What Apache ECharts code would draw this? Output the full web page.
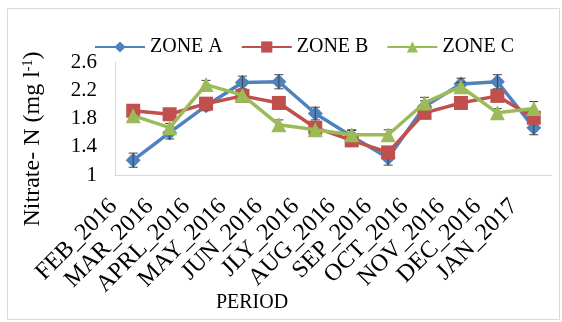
<!DOCTYPE html>
<html><head><meta charset="utf-8">
<script src="https://cdn.jsdelivr.net/npm/echarts@6/dist/echarts.min.js"></script>
<style>html,body{margin:0;padding:0;background:#fff}#c{width:562px;height:322px}</style>
</head><body><div id="c"></div>
<script>
const categories = ['FEB_2016','MAR_2016','APRL_2016','MAY_2016','JUN_2016','JLY_2016','AUG_2016','SEP_2016','OCT_2016','NOV_2016','DEC_2016','JAN_2017'];
const zoneA = [1.21, 1.60, 1.98, 2.31, 2.32, 1.87, 1.55, 1.24, 1.97, 2.29, 2.32, 1.67];
const zoneB = [1.91, 1.86, 2.01, 2.12, 2.02, 1.67, 1.49, 1.32, 1.88, 2.02, 2.12, 1.81];
const zoneC = [1.84, 1.67, 2.28, 2.13, 1.71, 1.64, 1.57, 1.57, 2.02, 2.25, 1.88, 1.94];
const errA = [0.10, 0.09, 0.07, 0.09, 0.10, 0.09, 0.08, 0.10, 0.08, 0.08, 0.10, 0.10];
const errB = [0.06, 0.06, 0.06, 0.06, 0.06, 0.06, 0.06, 0.06, 0.06, 0.06, 0.06, 0.06];
const errC = [0.06, 0.06, 0.06, 0.06, 0.07, 0.06, 0.07, 0.07, 0.08, 0.06, 0.06, 0.10];
const yTicks = [1, 1.4, 1.8, 2.2, 2.6];
const seriesNames = ['ZONE A', 'ZONE B', 'ZONE C'];
const colors = ['#4F81BD', '#C0504D', '#9BBB59'];
const font = 'Liberation Serif';

function errSeries(vals, errs, name) {
  return {
    type: 'custom', name: name + ' err', z: 3, silent: true,
    data: vals.map((v, i) => [i, v - errs[i], v + errs[i]]),
    renderItem: function (params, api) {
      const x = api.value(0);
      const lo = api.coord([x, api.value(1)]);
      const hi = api.coord([x, api.value(2)]);
      const w = 4.5;
      const st = { stroke: '#404040', lineWidth: 1 };
      return { type: 'group', children: [
        { type: 'line', shape: { x1: lo[0], y1: lo[1], x2: hi[0], y2: hi[1] }, style: st },
        { type: 'line', shape: { x1: lo[0]-w, y1: lo[1], x2: lo[0]+w, y2: lo[1] }, style: st },
        { type: 'line', shape: { x1: hi[0]-w, y1: hi[1], x2: hi[0]+w, y2: hi[1] }, style: st }
      ]};
    }
  };
}
function lineSeries(name, vals, color, symbol, size, z) {
  return { type: 'line', name: name, data: vals, symbol: symbol, symbolSize: size, z: z,
    lineStyle: { color: color, width: 3.5 }, itemStyle: { color: color }, color: color };
}

const chart = echarts.init(document.getElementById('c'), null, { renderer: 'canvas' });
chart.setOption({
  animation: false,
  color: colors,
  grid: { left: 115, right: 10, top: 62, bottom: 147, containLabel: false },
  legend: {
    top: 32, left: 89, itemWidth: 50, itemHeight: 14, itemGap: 18,
    data: seriesNames,
    textStyle: { fontFamily: font, fontSize: 20, color: '#000' }
  },
  graphic: [
    { type: 'rect', shape: { x: 7.5, y: 8.5, width: 552, height: 311 }, style: { fill: 'none', stroke: '#d9d9d9', lineWidth: 1 }, z: -1 },
    { type: 'text', x: 252, y: 303, style: { text: 'PERIOD', fontFamily: font, fontSize: 20, fill: '#000', align: 'center', verticalAlign: 'middle' } },
    { type: 'text', x: 33, y: 139, rotation: Math.PI / 2,
      style: { text: '{a|Nitrate- N (mg l}{s|-1}{a|)}', align: 'center', verticalAlign: 'middle',
        rich: { a: { fontFamily: font, fontSize: 24, fill: '#000' }, s: { fontFamily: font, fontSize: 14, fill: '#000', padding: [0, 0, 10, 0] } } } }
  ],
  xAxis: {
    type: 'category', data: categories, boundaryGap: true,
    axisLine: { lineStyle: { color: '#d9d9d9', width: 1 } },
    axisTick: { show: false },
    axisLabel: { rotate: 45, margin: 8, interval: 0, fontFamily: font, fontSize: 24, color: '#000',
      padding: [0, 28, 0, 0] }
  },
  yAxis: {
    type: 'value', min: 1, max: 2.6,
    axisLine: { show: true, lineStyle: { color: '#d9d9d9', width: 1 } },
    axisTick: { show: false },
    splitLine: { show: false },
    axisLabel: { customValues: yTicks, margin: 18, fontFamily: font, fontSize: 21, color: '#000',
      formatter: v => String(Math.round(v*10)/10) }
  },
  series: [
    lineSeries(seriesNames[0], zoneA, colors[0], 'diamond', 15, 2),
    lineSeries(seriesNames[1], zoneB, colors[1], 'rect', 14, 4),
    lineSeries(seriesNames[2], zoneC, colors[2], 'triangle', 15, 6),
    errSeries(zoneA, errA, 'A'),
    errSeries(zoneB, errB, 'B'),
    errSeries(zoneC, errC, 'C')
  ]
});
</script></body></html>
